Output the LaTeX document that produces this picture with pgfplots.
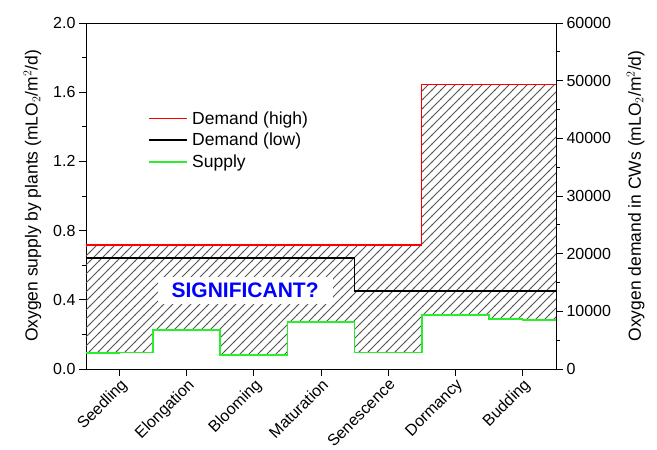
\documentclass[border=0pt]{standalone}
\usepackage{pgfplots}
\pgfplotsset{compat=1.18}
\usepgfplotslibrary{fillbetween}
\usetikzlibrary{patterns}
\usepackage{fontspec}
\setmainfont{Liberation Sans}
\definecolor{suppgreen}{RGB}{40,240,40}
\definecolor{hatchgray}{RGB}{85,85,85}
\pgfdeclarepatterninherentlycolored{hatch}{\pgfpoint{-1pt}{-1pt}}{\pgfpoint{10pt}{10pt}}{\pgfpoint{9pt}{9pt}}{%
  \pgfsetcolor{hatchgray}%
  \pgfsetlinewidth{0.8pt}%
  \pgfpathmoveto{\pgfpoint{-0.5pt}{-0.5pt}}%
  \pgfpathlineto{\pgfpoint{9.5pt}{9.5pt}}%
  \pgfusepath{stroke}%
}
\begin{document}
\begin{tikzpicture}
\pgfplotsset{
  every axis/.append style={
    scale only axis, width=470pt, height=346pt,
    tick align=outside,
    major tick length=7pt, minor tick length=4pt,
    every tick/.style={black, line width=0.9pt},
    axis line style={line width=0.9pt},
    tick label style={font=\fontsize{16}{19}\selectfont},
    label style={font=\fontsize{17.5}{21}\selectfont},
    /pgf/number format/assume math mode=true,
  }
}
\begin{axis}[
  xmin=-0.5, xmax=6.5,
  ymin=0, ymax=2.0,
  xtick={0,1,2,3,4,5,6},
  xticklabels={Seedling,Elongation,Blooming,Maturation,Senescence,Dormancy,Budding},
  x tick label style={rotate=45, anchor=north east, inner sep=1pt},
  xtick pos=lower, ytick pos=left,
  ytick={0,0.4,0.8,1.2,1.6,2.0},
  minor y tick num=1,
  yticklabel style={/pgf/number format/.cd, fixed, fixed zerofill, precision=1},
  ylabel={Oxygen supply by plants (mLO$_2$/m$^2$/d)},
  ylabel style={yshift=5pt},
  legend style={draw=none, fill=none, at={(0.125,0.756)}, anchor=north west,
    font=\fontsize{17.5}{21}\selectfont, row sep=3.5pt, cells={anchor=west},
    nodes={inner xsep=4.5pt}},
  legend image code/.code={\draw[#1] (0pt,0pt) -- (38pt,0pt);},
]
\addplot[const plot, draw=none, name path=sup, forget plot] coordinates {
  (-0.5,0.091) (0,0.096) (0.5,0.225) (1.5,0.081) (2.5,0.272) (3.5,0.096)
  (4.5,0.311) (5.5,0.291) (6,0.285) (6.5,0.285)};
\addplot[const plot, draw=none, name path=hi, forget plot] coordinates {
  (-0.5,0.717) (4.5,1.646) (6.5,1.646)};
\addplot[pattern=hatch, draw=none, forget plot] fill between[of=hi and sup];
\node[fill=white, text=blue, font=\bfseries\fontsize{21}{25}\selectfont,
  inner xsep=14pt, inner ysep=6pt] at (axis cs:1.87,0.453) {SIGNIFICANT?};
\addplot[const plot, red, line width=1.1pt] coordinates {
  (-0.5,0.717) (4.5,1.646) (6.5,1.646)};
\addlegendentry{Demand (high)}
\addplot[const plot, black, line width=1.8pt] coordinates {
  (-0.5,0.643) (3.5,0.453) (6.5,0.453)};
\addlegendentry{Demand (low)}
\addplot[black, line width=1.8pt, forget plot] coordinates {
  (3.5,0.453) (6.5,0.453)};
\addplot[const plot, suppgreen, line width=1.7pt] coordinates {
  (-0.5,0.091) (0,0.096) (0.5,0.225) (1.5,0.081) (2.5,0.272) (3.5,0.096)
  (4.5,0.311) (5.5,0.291) (6,0.285) (6.5,0.285)};
\addlegendentry{Supply}
\end{axis}
\begin{axis}[
  xmin=-0.5, xmax=6.5,
  ymin=0, ymax=60000,
  axis x line=none,
  axis y line*=right,
  ytick={0,10000,20000,30000,40000,50000,60000},
  minor y tick num=1,
  scaled y ticks=false,
  yticklabel style={/pgf/number format/.cd, fixed, 1000 sep={}},
  ylabel={Oxygen demand in CWs (mLO$_2$/m$^2$/d)},
  ylabel style={yshift=-9pt},
]
\end{axis}
\pgfresetboundingbox
\path[use as bounding box] (-86pt,-81pt) rectangle (571pt,369pt);
\end{tikzpicture}
\end{document}
